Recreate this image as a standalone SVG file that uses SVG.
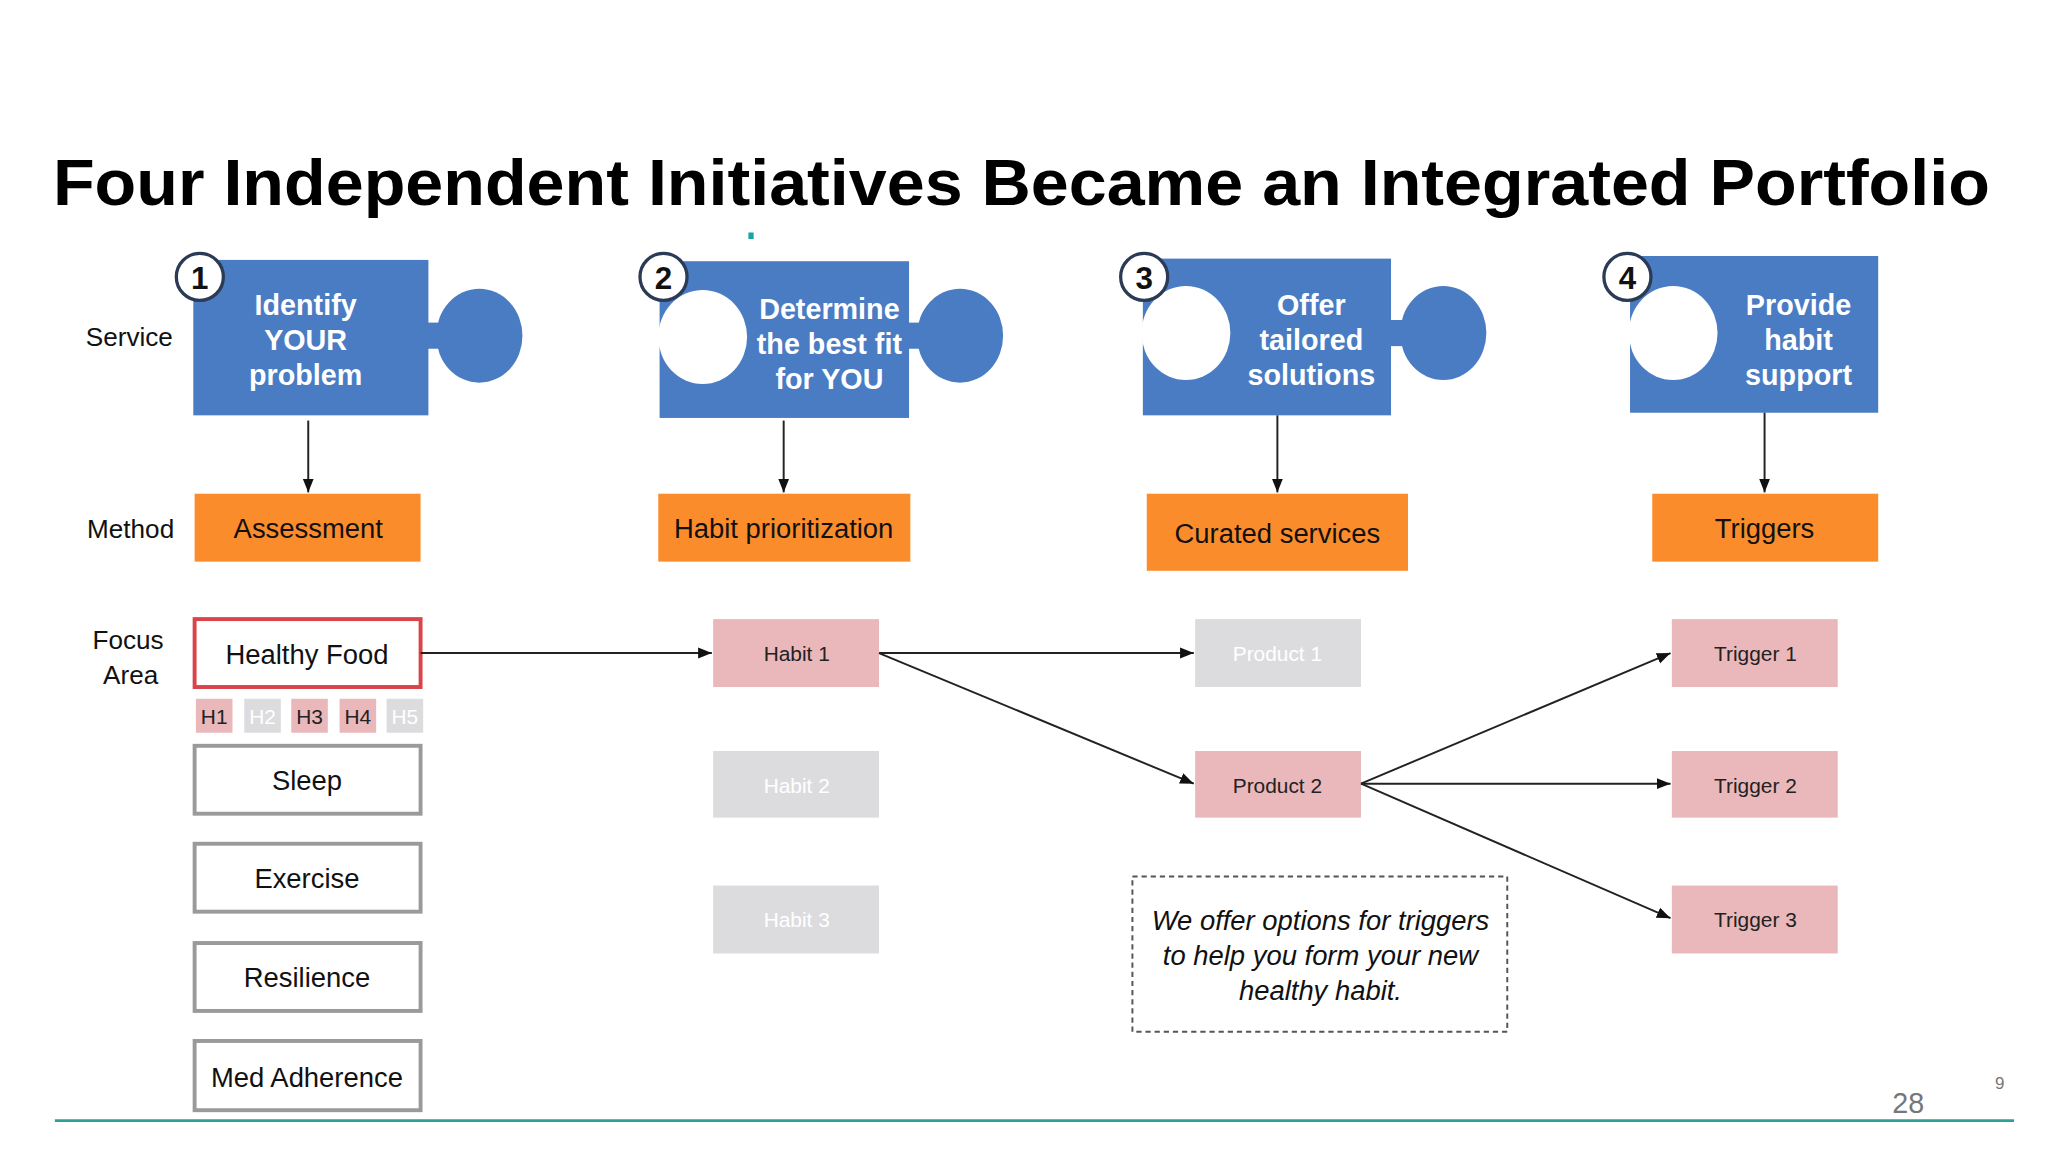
<svg xmlns="http://www.w3.org/2000/svg" width="2048" height="1152" viewBox="0 0 2048 1152">
<defs>
<style>
text{font-family:"Liberation Sans",Arial,sans-serif}
.pz{fill:#4a7cc4}
.pt{fill:#fff;font-weight:bold;font-size:22px;text-anchor:middle}
.num{fill:#fff;stroke:#2b3a55;stroke-width:2.5}
.nt{font-weight:bold;font-size:24px;text-anchor:middle;fill:#111}
.or{fill:#fb8c2c}
.ot{font-size:21px;text-anchor:middle;fill:#111}
.fb{fill:#fff;stroke:#9a9a9a;stroke-width:3}
.ft{font-size:21px;text-anchor:middle;fill:#111}
.pk{fill:#eab8ba}
.gr{fill:#dcdcde}
.st{font-size:16px;text-anchor:middle;fill:#222}
.wt{font-size:16px;text-anchor:middle;fill:#fff}
.lb{font-size:20px;text-anchor:middle;fill:#111}
.ln{stroke:#222;stroke-width:1.5;fill:none;marker-end:url(#a)}
</style>
<marker id="a" viewBox="0 0 10 10" refX="10" refY="5" markerWidth="7" markerHeight="7" orient="auto"><path d="M0,1 L10,5 L0,9 z" fill="#111"/></marker>
</defs>
<rect width="2048" height="1152" fill="#fff"/>
<g transform="scale(1.30612)">
<text x="782" y="157" font-size="50" font-weight="bold" text-anchor="middle" textLength="1483" lengthAdjust="spacingAndGlyphs" fill="#000">Four Independent Initiatives Became an Integrated Portfolio</text>
<rect x="573" y="178" width="4" height="5" fill="#1aa3a3"/>
<text class="lb" x="99" y="265">Service</text>
<text class="lb" x="100" y="412">Method</text>
<text class="lb" x="98" y="497">Focus</text>
<text class="lb" x="100" y="524">Area</text>

<g id="piece1"><rect class="pz" x="148" y="199" width="180" height="119"/><ellipse class="pz" cx="367" cy="257" rx="33" ry="36"/><rect class="pz" x="326" y="247" width="12" height="20"/><text class="pt" x="234" y="241">Identify</text><text class="pt" x="234" y="268">YOUR</text><text class="pt" x="234" y="295">problem</text><circle class="num" cx="153" cy="212" r="18"/><text class="nt" x="153" y="221">1</text></g>
<g id="piece2"><rect class="pz" x="505" y="200" width="191" height="120"/><ellipse class="pz" cx="735" cy="257" rx="33" ry="36"/><rect class="pz" x="694" y="247" width="12" height="20"/><ellipse cx="538" cy="258" rx="34" ry="36" fill="#fff"/><text class="pt" x="635" y="244">Determine</text><text class="pt" x="635" y="271">the best fit</text><text class="pt" x="635" y="298">for YOU</text><circle class="num" cx="508" cy="212" r="18"/><text class="nt" x="508" y="221">2</text></g>
<g id="piece3"><rect class="pz" x="875" y="198" width="190" height="120"/><ellipse class="pz" cx="1105" cy="255" rx="33" ry="36"/><rect class="pz" x="1063" y="245" width="12" height="20"/><ellipse cx="908" cy="255" rx="34" ry="36" fill="#fff"/><text class="pt" x="1004" y="241">Offer</text><text class="pt" x="1004" y="268">tailored</text><text class="pt" x="1004" y="295">solutions</text><circle class="num" cx="876" cy="212" r="18"/><text class="nt" x="876" y="221">3</text></g>
<g id="piece4"><rect class="pz" x="1248" y="196" width="190" height="120"/><ellipse cx="1281" cy="255" rx="34" ry="36" fill="#fff"/><text class="pt" x="1377" y="241">Provide</text><text class="pt" x="1377" y="268">habit</text><text class="pt" x="1377" y="295">support</text><circle class="num" cx="1246" cy="212" r="18"/><text class="nt" x="1246" y="221">4</text></g>

<g id="m1"><rect class="or" x="149" y="378" width="173" height="52"/><text class="ot" x="236" y="412">Assessment</text></g>
<g id="m2"><rect class="or" x="504" y="378" width="193" height="52"/><text class="ot" x="600" y="412">Habit prioritization</text></g>
<g id="m3"><rect class="or" x="878" y="378" width="200" height="59"/><text class="ot" x="978" y="416">Curated services</text></g>
<g id="m4"><rect class="or" x="1265" y="378" width="173" height="52"/><text class="ot" x="1351" y="412">Triggers</text></g>

<g id="f1"><rect x="149" y="474" width="173" height="52" fill="#fff" stroke="#d9434a" stroke-width="3"/><text class="ft" x="235" y="508">Healthy Food</text></g>
<g id="h"><rect class="pk" x="150" y="535" width="28" height="26"/><text class="st" x="164" y="554">H1</text><rect class="gr" x="187" y="535" width="28" height="26"/><text class="wt" x="201" y="554">H2</text><rect class="pk" x="223" y="535" width="28" height="26"/><text class="st" x="237" y="554">H3</text><rect class="pk" x="260" y="535" width="28" height="26"/><text class="st" x="274" y="554">H4</text><rect class="gr" x="296" y="535" width="28" height="26"/><text class="wt" x="310" y="554">H5</text></g>
<g id="f2"><rect class="fb" x="149" y="571" width="173" height="52"/><text class="ft" x="235" y="605">Sleep</text></g>
<g id="f3"><rect class="fb" x="149" y="646" width="173" height="52"/><text class="ft" x="235" y="680">Exercise</text></g>
<g id="f4"><rect class="fb" x="149" y="722" width="173" height="52"/><text class="ft" x="235" y="756">Resilience</text></g>
<g id="f5"><rect class="fb" x="149" y="797" width="173" height="53"/><text class="ft" x="235" y="832">Med Adherence</text></g>

<g id="hb1"><rect class="pk" x="546" y="474" width="127" height="52"/><text class="st" x="610" y="506">Habit 1</text></g>
<g id="hb2"><rect class="gr" x="546" y="575" width="127" height="51"/><text class="wt" x="610" y="607">Habit 2</text></g>
<g id="hb3"><rect class="gr" x="546" y="678" width="127" height="52"/><text class="wt" x="610" y="710">Habit 3</text></g>
<g id="p1"><rect class="gr" x="915" y="474" width="127" height="52"/><text class="wt" x="978" y="506">Product 1</text></g>
<g id="p2"><rect class="pk" x="915" y="575" width="127" height="51"/><text class="st" x="978" y="607">Product 2</text></g>
<g id="t1"><rect class="pk" x="1280" y="474" width="127" height="52"/><text class="st" x="1344" y="506">Trigger 1</text></g>
<g id="t2"><rect class="pk" x="1280" y="575" width="127" height="51"/><text class="st" x="1344" y="607">Trigger 2</text></g>
<g id="t3"><rect class="pk" x="1280" y="678" width="127" height="52"/><text class="st" x="1344" y="710">Trigger 3</text></g>

<g id="note"><rect x="867" y="671" width="287" height="119" fill="none" stroke="#555" stroke-width="1.5" stroke-dasharray="4,3"/>
<text x="1011" y="712" font-size="21" font-style="italic" text-anchor="middle" fill="#111">We offer options for triggers</text>
<text x="1011" y="739" font-size="21" font-style="italic" text-anchor="middle" fill="#111">to help you form your new</text>
<text x="1011" y="766" font-size="21" font-style="italic" text-anchor="middle" fill="#111">healthy habit.</text></g>

<g id="connectors">
<line class="ln" x1="236" y1="322" x2="236" y2="377"/>
<line class="ln" x1="600" y1="322" x2="600" y2="377"/>
<line class="ln" x1="978" y1="318" x2="978" y2="377"/>
<line class="ln" x1="1351" y1="316" x2="1351" y2="377"/>
<line class="ln" x1="322" y1="500" x2="545" y2="500"/>
<line class="ln" x1="673" y1="500" x2="914" y2="500"/>
<line class="ln" x1="673" y1="500" x2="914" y2="600"/>
<line class="ln" x1="1042" y1="600" x2="1279" y2="500"/>
<line class="ln" x1="1042" y1="600" x2="1279" y2="600"/>
<line class="ln" x1="1042" y1="600" x2="1279" y2="703"/>
</g>
<text x="1461" y="852" font-size="22" text-anchor="middle" fill="#777">28</text>
<text x="1531" y="834" font-size="13" text-anchor="middle" fill="#777">9</text>
<line x1="42" y1="858" x2="1542" y2="858" stroke="#2aa198" stroke-width="2"/>
</g>
</svg>
